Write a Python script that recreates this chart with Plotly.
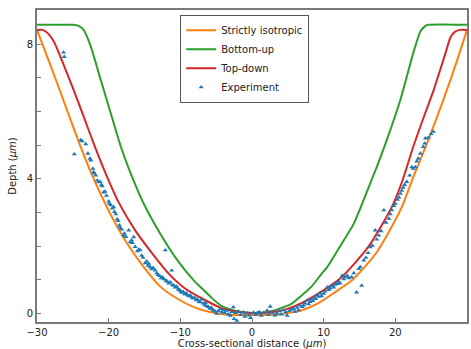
import plotly.graph_objects as go

# ---- model curves ----
iso_x = [-30, -28, -26, -24, -22.3, -19.8, -17.4, -15.1, -12.8, -10.4, -8.1, -6, -4, -2, 0,
         2, 4, 6, 7, 9.2, 11.5, 13.9, 15.8, 17.6, 19.3, 20.9, 22.6, 24.6, 26.7, 28.6, 30]
iso_y = [8.42, 7.3, 6.15, 5.0, 4.1, 2.97, 2.07, 1.38, 0.8, 0.44, 0.19, 0.05, -0.02, -0.04, -0.04,
         -0.04, -0.02, 0.05, 0.1, 0.3, 0.62, 0.98, 1.4, 1.88, 2.5, 3.16, 4.1, 5.15, 6.34, 7.5, 8.42]

bot_x = [-30, -25, -24.2, -23.5, -22.5, -21.1, -19.7, -18.3, -17.0, -15.1, -12.8, -10.4, -8.1, -7,
         -5.75, -4.35, -2.5, 0, 2.66, 5.5, 7, 8.3, 9.7, 10.5, 12.3, 14.2, 16, 17.4, 18.8, 20.7,
         22.5, 23.5, 24.2, 24.6, 30]
bot_y = [8.57, 8.57, 8.54, 8.42, 7.93, 6.93, 5.94, 4.95, 4.2, 3.26, 2.37, 1.58, 0.98, 0.75,
         0.49, 0.24, 0.09, 0.02, 0.07, 0.29, 0.55, 0.8, 1.18, 1.38, 2.0, 2.67, 3.6, 4.35, 5.15, 6.34,
         7.73, 8.37, 8.54, 8.57, 8.57]

top_x = [-30, -29.2, -28.4, -27.6, -26.5, -25, -23.5, -22, -20.5, -18.6, -16.3, -13.9, -11.6,
         -9.25, -6.9, -4.35, -1.5, 0, 1.3, 4.1, 6.9, 9, 12.5, 16.2, 19.5, 21, 22.5, 24, 25.3, 27.0,
         27.7, 28.3, 29, 30]
top_y = [8.42, 8.42, 8.3, 8.05, 7.5, 6.7, 5.85, 5.0, 4.2, 3.3, 2.47, 1.78, 1.18,
         0.73, 0.44, 0.17, 0.04, 0.02, 0.02, 0.09, 0.31, 0.56, 1.08, 1.97, 3.16, 3.95, 4.95, 5.85, 6.6, 7.73,
         8.2, 8.36, 8.42, 8.42]

# ---- experiment points ----
exp_x = [-26.3, -26.2, -24.8, -23.9, -23.7, -23.2, -22.9, -22.6, -22.5, -22.2, -22.1, -22.0, -21.8,
         -21.6, -21.4, -21.2, -21.0, -20.9, -20.7, -20.5, -20.3, -20.0, -19.9, -19.7, -19.5, -19.3,
         -19.2, -19.0, -18.8, -18.7, -18.5, -18.4, -18.2, -17.9, -17.8, -17.6, -17.2, -17.0, -16.8,
         -16.7, -16.5, -16.3, -16.0, -15.8, -15.6, -15.4, -15.2, -14.9, -14.7, -14.5, -14.4, -14.2,
         -14.0, -13.8, -13.5, -13.3, -13.1, -12.9, -12.7, -12.5, -12.3, -12.1, -12.0, -11.8, -11.6,
         -11.4, -11.2, -11.1, -10.9, -10.7, -10.5, -10.3, -10.1, -10.0, -9.8, -9.6, -9.4, -9.2, -9.0,
         -8.8, -8.6, -8.4, -8.2, -8.0, -7.8, -7.6, -7.4, -7.2, -7.0, -6.8, -6.6, -6.5, -6.3, -6.1,
         -5.9, -5.7, -5.5, -5.35, -5.1, -4.9, -4.7, -4.4, -4.2, -4.0, -3.8, -3.5, -3.3, -3.0, -2.8,
         -2.6, -2.5, -2.3, -2.1, -1.9, -1.6, -1.2, -1.0, -0.7, -0.4, -0.2,
         0.2, 0.5, 0.7, 1.0, 1.3, 1.6, 2.1, 2.3, 2.55, 2.8, 3.2, 3.5, 3.8, 4.1, 4.4, 4.7, 4.9, 5.2,
         5.5, 5.8, 6.0, 6.3, 6.5, 6.7, 7.0, 7.2, 7.4, 7.7, 7.9, 8.1, 8.3, 8.5, 8.7, 8.9, 9.1, 9.3,
         9.5, 9.7, 10.0, 10.2, 10.5, 10.7, 10.9, 11.2, 11.4, 11.6, 11.9, 12.1, 12.3, 12.6, 12.8, 13.0,
         13.3, 13.5, 13.9, 14.2, 14.6, 14.9, 15.1, 15.3, 15.6, 15.9, 16.2, 16.5, 16.8, 17.2, 17.4,
         17.7, 18.0, 18.4, 18.7, 19.1, 19.3, 19.5, 19.8, 20.0, 20.3, 20.5, 20.7, 20.9, 21.1, 21.3,
         21.6, 22.0, 22.3, 22.5, 22.8, 23.0, 23.2, 23.5, 23.9, 24.1, 24.2, 24.6, 25.0, 25.3]
exp_y = [7.75, 7.62, 4.73, 5.15, 5.12, 5.03, 4.75, 4.6, 4.55, 4.3, 4.2, 4.16, 4.1,
         3.95, 3.9, 3.91, 3.82, 3.78, 3.6, 3.62, 3.5, 3.33, 3.26, 3.22, 3.12, 3.16,
         3.02, 2.95, 2.8, 2.75, 2.62, 2.55, 2.5, 2.32, 2.38, 2.28, 2.47, 2.12, 2.18,
         2.1, 2.27, 1.98, 1.85, 1.9, 1.88, 1.72, 1.66, 1.5, 1.55, 1.42, 1.48, 1.38,
         1.32, 1.36, 1.28, 1.2, 1.15, 1.12, 1.05, 1.08, 1.02, 1.88, 0.98, 0.95, 0.9,
         0.93, 1.28, 0.85, 0.83, 0.78, 0.8, 0.72, 0.7, 0.66, 0.62, 0.65, 0.58, 0.6, 0.55,
         0.52, 0.54, 0.48, 0.45, 0.47, 0.4, 0.42, 0.35, 0.34, 0.42, 0.3, 0.25, 0.32, 0.22, 0.2,
         0.15, 0.18, 0.12, 0.09, 0.06, 0.0, 0.08, 0.14, 0.04, 0.1, 0.02, 0.09, -0.02, -0.06, 0.05,
         0.19, -0.16, 0.02, -0.21, 0.06, -0.03, 0.04, -0.09, 0.01, -0.05, -0.13,
         0.03, -0.04, 0.01, 0.05, -0.06, 0.02, 0.09, -0.03, 0.21, 0.03, -0.05, 0.0, 0.07, -0.02, 0.1, 0.04, -0.06, 0.08,
         0.12, 0.15, 0.06, 0.18, 0.1, 0.24, 0.2, 0.24, 0.3, 0.39, 0.28, 0.35, 0.42, 0.38, 0.47, 0.44, 0.54, 0.5,
         0.6, 0.52, 0.59, 0.66, 0.78, 0.7, 0.75, 0.82, 0.78, 0.86, 0.88, 0.95, 0.9, 1.13, 1.02, 1.08,
         1.12, 1.05, 1.08, 1.2, 0.63, 1.33, 1.38, 0.83, 1.58, 1.66, 1.8, 1.97, 2.02, 2.47, 2.2,
         2.32, 2.45, 3.07, 2.7, 2.82, 2.95, 3.07, 3.2, 3.26, 3.38, 3.45, 3.56, 3.65, 3.74, 3.82,
         3.91, 4.1, 4.35, 4.3, 4.35, 4.52, 4.6, 4.75, 4.95, 5.05, 5.2, 5.22, 5.33, 5.4]

x_ticks = [-30, -20, -10, 0, 10, 20, 30]
x_labels = ["\u221230", "\u221220", "\u221210", "0", "10", "20", "30"]
y_ticks = [0, 4, 8]
y_labels = ["0", "4", "8"]

FONT = "DejaVu Sans"
GRAY = "#7a7a7a"
TXT = "#222222"

fig = go.Figure()
fig.add_trace(go.Scatter(x=iso_x, y=iso_y, mode="lines", name="Strictly isotropic",
                         line=dict(color="#ff7f0e", width=2, shape="spline", smoothing=0.6)))
fig.add_trace(go.Scatter(x=bot_x, y=bot_y, mode="lines", name="Bottom-up",
                         line=dict(color="#2ca02c", width=2, shape="spline", smoothing=0.6)))
fig.add_trace(go.Scatter(x=top_x, y=top_y, mode="lines", name="Top-down",
                         line=dict(color="#d62728", width=2, shape="spline", smoothing=0.6)))
fig.add_trace(go.Scatter(x=exp_x, y=exp_y, mode="markers", name="Experiment",
                         marker=dict(symbol="triangle-up", size=4.5, color="#1f77b4", line=dict(width=0))))

fig.update_layout(
    width=471, height=349,
    margin=dict(l=37, r=4, t=10, b=27, autoexpand=False),
    paper_bgcolor="white", plot_bgcolor="white",
    font=dict(family=FONT, size=10, color=TXT),
    showlegend=True,
    legend=dict(x=0.333, y=0.985, xanchor="left", yanchor="top",
                bgcolor="white", bordercolor="#555555", borderwidth=1,
                font=dict(family=FONT, size=10, color=TXT),
                tracegroupgap=0, itemwidth=30),
)
fig.update_xaxes(range=[-30, 30], tickvals=x_ticks, ticktext=x_labels, automargin=False,
                 showgrid=False, zeroline=False, showline=True, mirror=True,
                 linecolor=GRAY, linewidth=1.6, ticks="inside", ticklen=4, tickcolor=GRAY,
                 tickfont=dict(family=FONT, size=10, color=TXT),
                 title=dict(text="Cross-sectional distance (<i>\u03bcm</i>)", standoff=0,
                            font=dict(family=FONT, size=10, color=TXT)))
fig.update_yaxes(range=[-0.25, 9.01], tickvals=y_ticks, ticktext=y_labels, automargin=False,
                 showgrid=False, zeroline=False, showline=True, mirror=True,
                 linecolor=GRAY, linewidth=1.6, ticks="inside", ticklen=4, tickcolor=GRAY,
                 minor=dict(ticks="inside", dtick=1, tick0=0, ticklen=4, tickcolor=GRAY, showgrid=False),
                 tickfont=dict(family=FONT, size=10, color=TXT),
                 title=dict(text="Depth (<i>\u03bcm</i>)", standoff=8,
                            font=dict(family=FONT, size=10, color=TXT)))

fig.write_html("out.html", config={"displayModeBar": False},
               post_script="document.body.style.margin='0';")
